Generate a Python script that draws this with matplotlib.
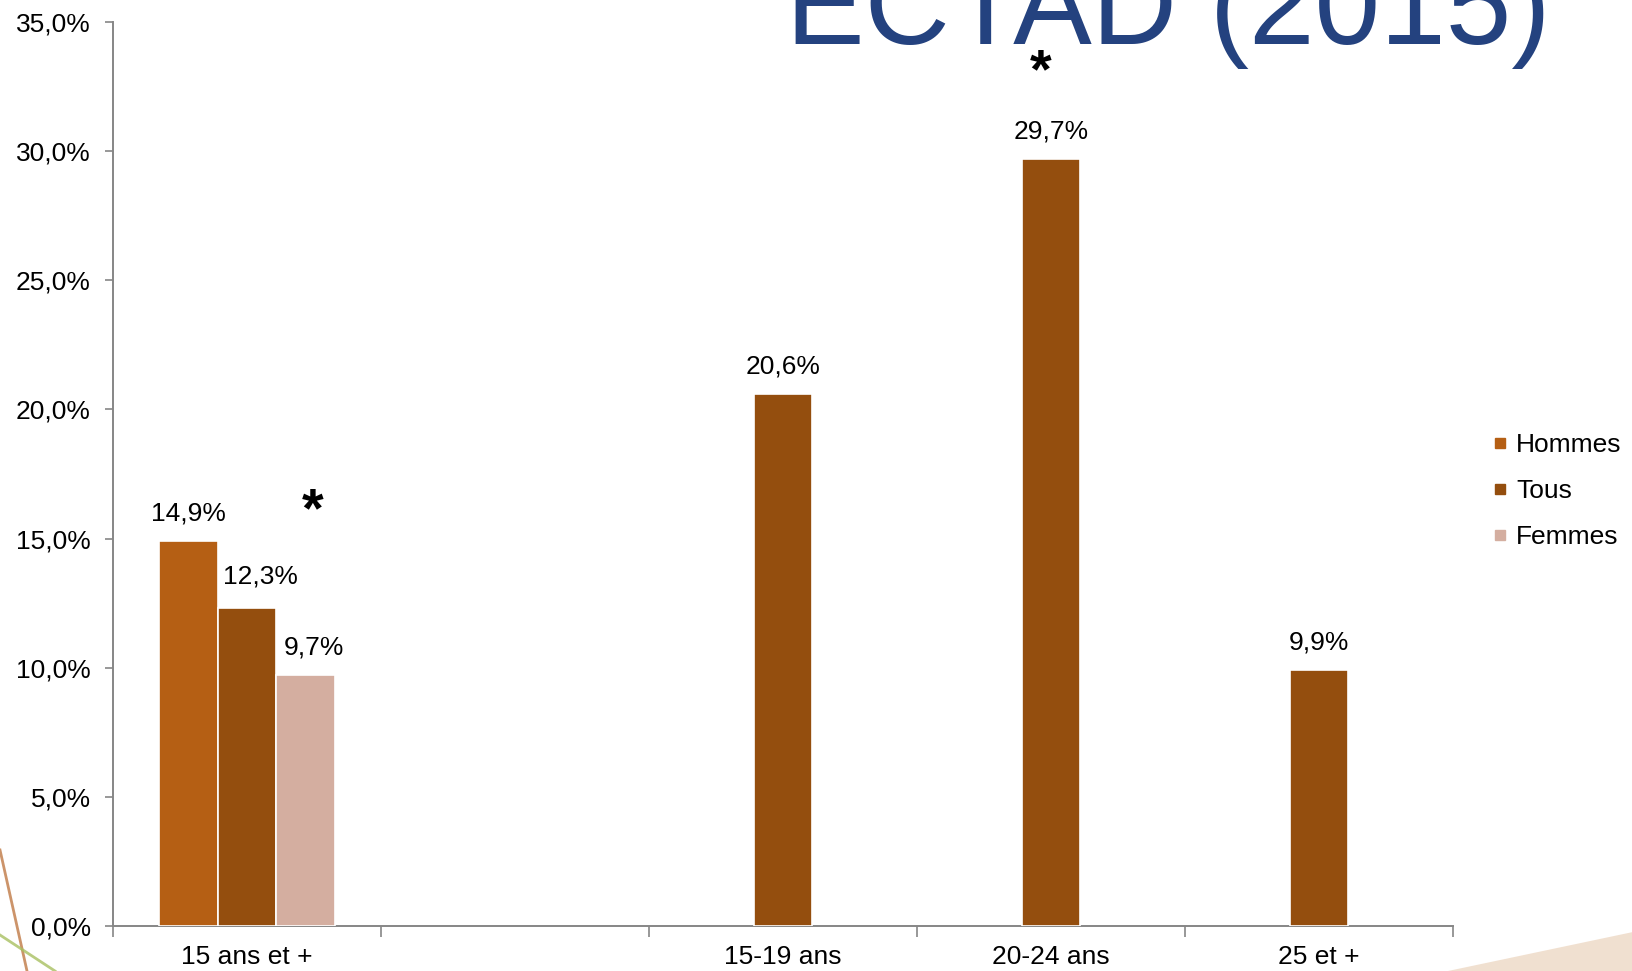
import matplotlib.pyplot as plt
import numpy as np
from matplotlib.lines import Line2D
from matplotlib.patches import Polygon

plt.rcParams['font.family'] = ['Liberation Sans', 'DejaVu Sans']

categories = ["15 ans et +", "", "15-19 ans", "20-24 ans", "25 et +"]
hommes = [14.9, np.nan, np.nan, np.nan, np.nan]
tous = [12.3, np.nan, 20.6, 29.7, 9.9]
femmes = [9.7, np.nan, np.nan, np.nan, np.nan]
series_names = ["Hommes", "Tous", "Femmes"]
colors = ["#B55F14", "#944E0E", "#D4AEA0"]
star_points = [(0.245, 16.0), (2.96, 33.0)]

fig = plt.figure(figsize=(16.33, 9.71), dpi=100)
ax = fig.add_axes([113 / 1633, 1 - 926 / 971, (1453 - 113) / 1633, (926 - 22) / 971])

x = np.arange(len(categories))
w = 0.22
nudge = {(1, 0): (10, 3), (2, 0): (6, 0)}
for k, (vals, off) in enumerate(zip([hommes, tous, femmes], [-w, 0, w])):
    vals = np.array(vals, dtype=float)
    ax.bar(x + off, vals, width=w, color=colors[k], edgecolor="white", linewidth=1.2, zorder=3)
    for i, v in enumerate(vals):
        if np.isnan(v):
            continue
        dx, dy = nudge.get((k, i), (0, 0))
        ax.annotate(f"{v:.1f}%".replace(".", ","), (x[i] + off, v),
                    xytext=(dx, 20 + dy), textcoords="offset points",
                    ha="center", va="center", fontsize=19)

for sx, sy in star_points:
    ax.text(sx, sy, "*", ha="center", va="center", fontsize=40, fontweight="bold")

ax.set_xlim(-0.5, len(categories) - 0.5)
ax.set_ylim(0, 35)
ax.set_yticks(np.arange(0, 36, 5))
ax.set_yticklabels([f"{t:.1f}%".replace(".", ",") for t in np.arange(0, 36, 5)])
ax.set_xticks(np.arange(-0.5, len(categories)))
ax.set_xticklabels([])
ax.set_xticks(x, minor=True)
ax.set_xticklabels(categories, minor=True)
ax.tick_params(axis="x", which="major", length=8, width=1.2, color="#868686")
ax.tick_params(axis="x", which="minor", length=0, pad=14, labelsize=19)
ax.tick_params(axis="y", length=6, width=1.2, color="#868686", pad=10, labelsize=19)
for s in ["top", "right"]:
    ax.spines[s].set_visible(False)
for s in ["left", "bottom"]:
    ax.spines[s].set_color("#868686")
    ax.spines[s].set_linewidth(1.4)

handles = [Line2D([], [], marker="s", linestyle="", color=c, markersize=7) for c in colors]
fig.legend(handles, series_names, loc="upper left", bbox_to_anchor=(1479 / 1633, 1 - 420 / 971),
           frameon=False, fontsize=19, handlelength=0.6, handletextpad=0.3,
           labelspacing=0.83, borderpad=0)

fig.text(786 / 1633, 1 - 44 / 971, "ECTAD (2015)", fontsize=85, color="#24427F",
         ha="left", va="baseline")

# decorative slide background bits
fig.add_artist(Line2D([0, 27 / 1633], [1 - 850 / 971, 0], color="#C07A45", lw=2, alpha=0.8))
fig.add_artist(Line2D([0, 55 / 1633], [1 - 935 / 971, 0], color="#A8C060", lw=2, alpha=0.8))
fig.add_artist(Polygon([[1448 / 1633, 0], [1, 1 - 932 / 971], [1, 0]], closed=True,
                       transform=fig.transFigure, color="#EBD3BC", alpha=0.7, lw=0))

fig.savefig("out.png", dpi=100)
